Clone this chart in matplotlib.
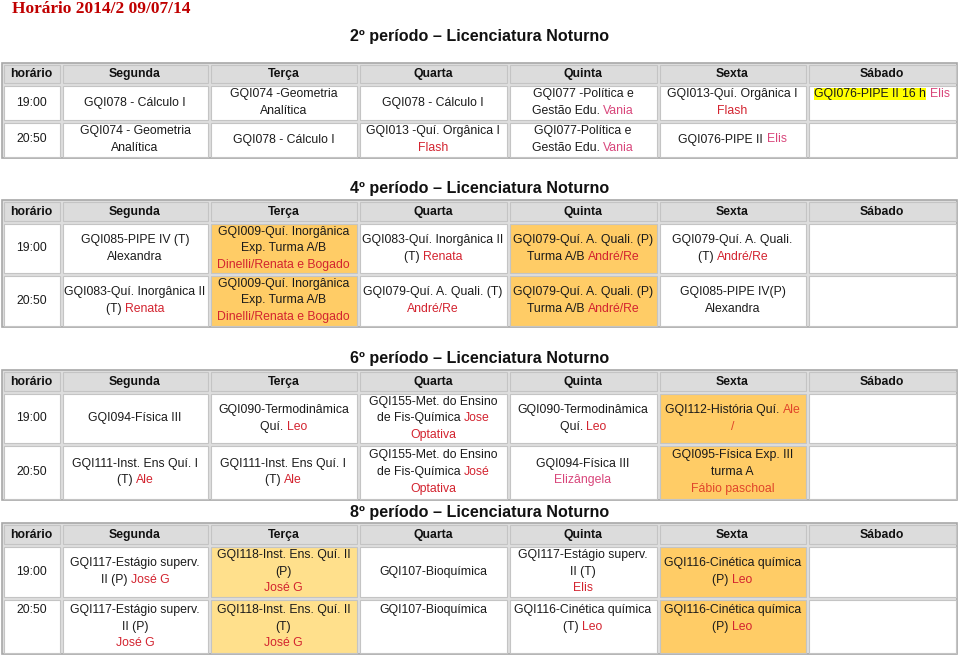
import matplotlib
matplotlib.use("Agg")
import matplotlib.pyplot as plt
from matplotlib.patches import Rectangle

FONTE = ["Liberation Sans Narrow", "Liberation Sans", "DejaVu Sans"]

titulo = "Horário 2014/2 09/07/14"
cabecalho = ["horário", "Segunda", "Terça", "Quarta", "Quinta", "Sexta", "Sábado"]
horas = ["19:00", "20:50"]

# cores do texto: k preto, r vermelho, p rosa, o vermelho alaranjado, h fundo amarelo
cores = {"k": "#1a1a1a", "r": "#d3232f", "p": "#d8457a", "o": "#e0452a", "h": "#1a1a1a"}
fundos = {"": "white", "O": "#ffcc66", "Y": "#ffe08c"}

# 2º período
titulo_2 = "2º período – Licenciatura Noturno"
aulas_2 = [
    [["GQI078 - Cálculo I"], ["GQI074 -Geometria", "Analítica"], ["GQI078 - Cálculo I"],
     ["GQI077 -Política e", "Gestão Edu. ^pVania"], ["GQI013-Quí. Orgânica I", "^rFlash"],
     ["^hGQI076-PIPE II 16 h^k ^pElis", ""]],
    [["GQI074 - Geometria", "Analítica"], ["GQI078 - Cálculo I"], ["GQI013 -Quí. Orgânica I", "^rFlash"],
     ["GQI077-Política e", "Gestão Edu. ^pVania"], ["GQI076-PIPE II ^pElis"], []],
]
fundo_2 = [["", "", "", "", "", ""], ["", "", "", "", "", ""]]

# 4º período
titulo_4 = "4º período – Licenciatura Noturno"
aulas_4 = [
    [["GQI085-PIPE IV (T)", "Alexandra"],
     ["GQI009-Quí. Inorgânica", "Exp. Turma A/B", "^rDinelli/Renata e Bogado"],
     ["GQI083-Quí. Inorgânica II", "(T) ^rRenata"],
     ["GQI079-Quí. A. Quali. (P)", "Turma A/B ^rAndré/Re"],
     ["GQI079-Quí. A. Quali.", "(T) ^rAndré/Re"], []],
    [["GQI083-Quí. Inorgânica II", "(T) ^rRenata"],
     ["GQI009-Quí. Inorgânica", "Exp. Turma A/B", "^rDinelli/Renata e Bogado"],
     ["GQI079-Quí. A. Quali. (T)", "^rAndré/Re"],
     ["GQI079-Quí. A. Quali. (P)", "Turma A/B ^rAndré/Re"],
     ["GQI085-PIPE IV(P)", "Alexandra"], []],
]
fundo_4 = [["", "O", "", "O", "", ""], ["", "O", "", "O", "", ""]]

# 6º período
titulo_6 = "6º período – Licenciatura Noturno"
aulas_6 = [
    [["GQI094-Física III"], ["GQI090-Termodinâmica", "Quí. ^rLeo"],
     ["GQI155-Met. do Ensino", "de Fis-Química ^rJose", "^rOptativa"],
     ["GQI090-Termodinâmica", "Quí. ^rLeo"], ["GQI112-História Quí. ^oAle", "^o/"], []],
    [["GQI111-Inst. Ens Quí. I", "(T) ^rAle"], ["GQI111-Inst. Ens Quí. I", "(T) ^rAle"],
     ["GQI155-Met. do Ensino", "de Fis-Química ^rJosé", "^rOptativa"],
     ["GQI094-Física III", "^pElizângela"], ["GQI095-Física Exp. III", "turma A", "^oFábio paschoal"], []],
]
fundo_6 = [["", "", "", "", "O", ""], ["", "", "", "", "O", ""]]

# 8º período
titulo_8 = "8º período – Licenciatura Noturno"
aulas_8 = [
    [["GQI117-Estágio superv.", "II (P) ^rJosé G"], ["GQI118-Inst. Ens. Quí. II", "(P)", "^rJosé G"],
     ["GQI107-Bioquímica"], ["GQI117-Estágio superv.", "II (T)", "^rElis"],
     ["GQI116-Cinética química", "(P) ^rLeo"], []],
    [["GQI117-Estágio superv.", "II (P)", "^rJosé G"], ["GQI118-Inst. Ens. Quí. II", "(T)", "^rJosé G"],
     ["GQI107-Bioquímica"], ["GQI116-Cinética química", "(T) ^rLeo"],
     ["GQI116-Cinética química", "(P) ^rLeo"], []],
]
fundo_8 = [["", "Y", "", "", "O", ""], ["", "Y", "", "", "O", ""]]

# layout (pixels)
colunas = [2, 61, 209, 358, 508, 658, 807, 957]
tabelas = [
    # titulo, aulas, fundos, y titulo, linhas (y), alinhamento das linhas
    (titulo_2, aulas_2, fundo_2, 37, [63, 84.5, 121, 158], ["center", "center"]),
    (titulo_4, aulas_4, fundo_4, 188, [200, 222.5, 274, 327], ["center", "center"]),
    (titulo_6, aulas_6, fundo_6, 358, [370, 392.5, 444, 500], ["center", "center"]),
    (titulo_8, aulas_8, fundo_8, 513, [523, 545.5, 598, 654], ["center", "top"]),
]
ALT_LINHA = 16.6
TAM = 8.85

fig = plt.figure(figsize=(9.6, 6.56), dpi=100)
ax = fig.add_axes([0, 0, 1, 1])
ax.set_xlim(0, 960)
ax.set_ylim(656, 0)
ax.axis("off")
r = fig.canvas.get_renderer()


def largura(s, **kw):
    t = ax.text(0, 0, s + "x", **kw)
    w = t.get_window_extent(renderer=r).width
    t.remove()
    t = ax.text(0, 0, "x", **kw)
    w -= t.get_window_extent(renderer=r).width
    t.remove()
    return w


def segmentos(linha):
    partes = linha.split("^")
    segs = [("k", partes[0])] if partes[0] else []
    for p in partes[1:]:
        segs.append((p[0], p[1:]))
    return segs


def escreve(cx, y, linha, **kw):
    segs = segmentos(linha)
    total = largura("".join(s for _, s in segs), **kw)
    x0 = cx - total / 2
    prefixo = ""
    for cor, s in segs:
        dx = largura(prefixo, **kw) if prefixo else 0
        t = ax.text(x0 + dx, y, s, color=cores[cor], ha="left", va="center", **kw)
        if cor == "h":
            t.set_bbox(dict(facecolor="#ffff00", edgecolor="none", pad=0))
        prefixo += s


ax.text(12, 9, titulo, color="#c00000", fontsize=12.5, fontweight="bold",
        family=["Liberation Serif", "DejaVu Serif"], ha="left", va="center")

for tit, aulas, fundo, yt, ys, alinh in tabelas:
    ax.text(480, yt, tit, fontsize=11.6, fontweight="bold", family=FONTE,
            ha="center", va="center", color="#111111")
    ax.add_patch(Rectangle((colunas[0], ys[0]), colunas[-1] - colunas[0], ys[-1] - ys[0],
                           facecolor="#dedede", edgecolor="#a8a8a8", lw=1.2))
    for j in range(7):
        xa, xb = colunas[j], colunas[j + 1]
        ax.add_patch(Rectangle((xa + 1.5, ys[0] + 1.5), xb - xa - 3, ys[1] - ys[0] - 3,
                               facecolor="#dcdcdc", edgecolor="#c4c4c4", lw=0.8))
        ax.text((xa + xb) / 2, (ys[0] + ys[1]) / 2 + 0.5, cabecalho[j], fontsize=TAM,
                fontweight="bold", family=FONTE, ha="center", va="center", color="#111111")
    for i in range(2):
        ya, yb = ys[i + 1], ys[i + 2]
        celulas = [[horas[i]]] + aulas[i]
        cores_fundo = [""] + fundo[i]
        for j in range(7):
            xa, xb = colunas[j], colunas[j + 1]
            ax.add_patch(Rectangle((xa + 1.5, ya + 1.5), xb - xa - 3, yb - ya - 3,
                                   facecolor=fundos[cores_fundo[j]], edgecolor="#c4c4c4", lw=0.8))
            linhas = celulas[j]
            n = len(linhas)
            if alinh[i] == "top":
                y0 = ya + 12
            else:
                y0 = (ya + yb) / 2 - (n - 1) * ALT_LINHA / 2
            for k, linha in enumerate(linhas):
                if linha:
                    escreve((xa + xb) / 2, y0 + k * ALT_LINHA, linha, fontsize=TAM, family=FONTE)

fig.savefig("out.png", dpi=100)
